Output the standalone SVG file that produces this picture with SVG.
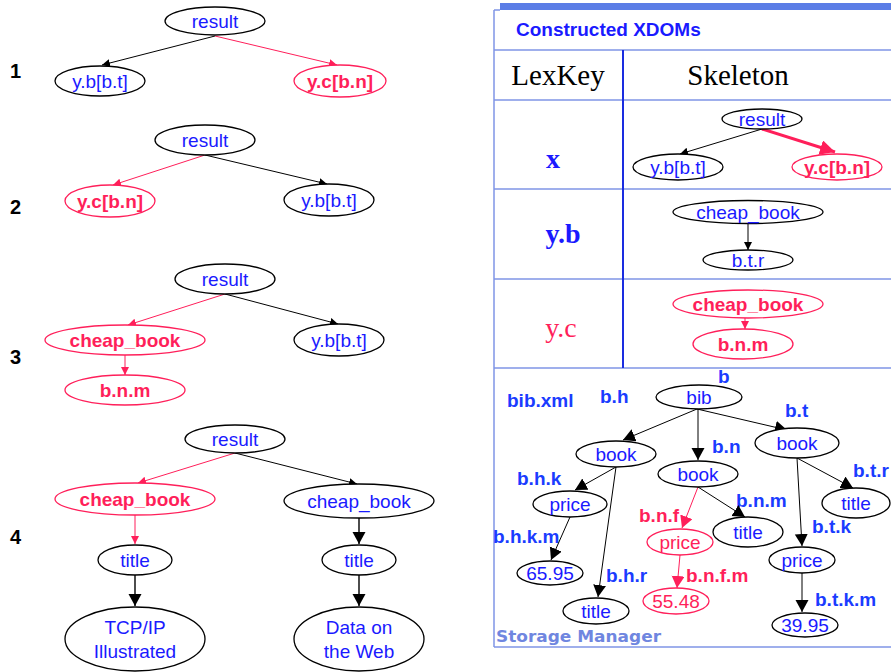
<svg xmlns="http://www.w3.org/2000/svg" width="891" height="672" viewBox="0 0 891 672">
<defs>
<style>
.n{fill:#fff;stroke:#000;stroke-width:1.3}
.np{fill:#fff;stroke:#ff1f5a;stroke-width:1.3}
.t{font-family:"Liberation Sans",Arial,sans-serif;font-size:19px;fill:#1a1aff;text-anchor:middle}
.tp{font-family:"Liberation Sans",Arial,sans-serif;font-size:19px;fill:#ff1f5a;text-anchor:middle;font-weight:bold}
.tpn{font-family:"Liberation Sans",Arial,sans-serif;font-size:19px;fill:#ff1f5a;text-anchor:middle}
.lb{font-family:"Liberation Sans",Arial,sans-serif;font-size:19px;fill:#1a3cff;font-weight:bold}
.lbp{font-family:"Liberation Sans",Arial,sans-serif;font-size:19px;fill:#ff1f5a;font-weight:bold}
.num{font-family:"Liberation Sans",Arial,sans-serif;font-size:20px;fill:#000;font-weight:bold}
.e{fill:none;stroke:#000;stroke-width:1}
.ep{fill:none;stroke:#ff1f5a;stroke-width:1}
.eb{fill:none;stroke:#000;stroke-width:1.4}
.tl{stroke:#7f95e6;stroke-width:1.5}
.srf{font-family:"Liberation Serif","Times New Roman",serif;font-size:29px;fill:#000;text-anchor:middle}
.key{font-family:"Liberation Serif","Times New Roman",serif;font-size:28px;fill:#1a1aff;font-weight:bold;text-anchor:middle}
.keyp{font-family:"Liberation Serif","Times New Roman",serif;font-size:28px;fill:#ff1f5a;text-anchor:middle}
</style>
<marker id="ms" markerUnits="userSpaceOnUse" markerWidth="10" markerHeight="10" refX="8" refY="4" orient="auto"><path d="M0,0 L8,4 L0,8 Z" fill="#000"/></marker>
<marker id="msp" markerUnits="userSpaceOnUse" markerWidth="10" markerHeight="10" refX="8" refY="4" orient="auto"><path d="M0,0 L8,4 L0,8 Z" fill="#ff1f5a"/></marker>
<marker id="mb" markerUnits="userSpaceOnUse" markerWidth="14" markerHeight="14" refX="12" refY="6.5" orient="auto"><path d="M0,0 L12,6.5 L0,13 Z" fill="#000"/></marker>
<marker id="mbp" markerUnits="userSpaceOnUse" markerWidth="14" markerHeight="14" refX="12" refY="6.5" orient="auto"><path d="M0,0 L12,6.5 L0,13 Z" fill="#ff1f5a"/></marker>
<marker id="mbp2" markerUnits="userSpaceOnUse" markerWidth="18" markerHeight="18" refX="15" refY="7.5" orient="auto"><path d="M0,0 L15,7.5 L0,15 Z" fill="#ff1f5a"/></marker>
</defs>
<rect width="891" height="672" fill="#fff"/>

<g id="table">
<rect x="500" y="3" width="391" height="7" fill="#5b7de6"/>
<line class="tl" x1="494" y1="10" x2="494" y2="647"/>
<line class="tl" x1="494" y1="10" x2="500" y2="10"/>
<line class="tl" x1="494" y1="50" x2="891" y2="50"/>
<line class="tl" x1="494" y1="100" x2="891" y2="100"/>
<line class="tl" x1="494" y1="189" x2="891" y2="189"/>
<line class="tl" x1="494" y1="279" x2="891" y2="279"/>
<line class="tl" x1="494" y1="368" x2="891" y2="368"/>
<line class="tl" x1="494" y1="647" x2="891" y2="647"/>
<line x1="623" y1="50" x2="623" y2="368" stroke="#1a2de0" stroke-width="2"/>
<text x="516" y="36" font-family="Liberation Sans,Arial,sans-serif" font-size="19" font-weight="bold" fill="#1a1aff">Constructed XDOMs</text>
<text class="srf" x="558" y="85">LexKey</text>
<text class="srf" x="738" y="85">Skeleton</text>
<text class="key" x="553" y="168">x</text>
<text class="key" x="563" y="243">y.b</text>
<text class="keyp" x="561" y="337">y.c</text>
<text x="496" y="642" font-family="Comic Sans MS,DejaVu Sans,sans-serif" font-size="16" font-weight="bold" fill="#6f86e0" textLength="165" lengthAdjust="spacingAndGlyphs">Storage Manager</text>
</g>

<g id="labels">
<text class="num" x="10" y="78">1</text>
<text class="num" x="10" y="214">2</text>
<text class="num" x="10" y="364">3</text>
<text class="num" x="10" y="544">4</text>
<text class="lb" x="718" y="383">b</text>
<text class="lb" x="507" y="407">bib.xml</text>
<text class="lb" x="600" y="403">b.h</text>
<text class="lb" x="785" y="417">b.t</text>
<text class="lb" x="712" y="453">b.n</text>
<text class="lb" x="517" y="485">b.h.k</text>
<text class="lb" x="853" y="477">b.t.r</text>
<text class="lb" x="736" y="507">b.n.m</text>
<text class="lbp" x="639" y="522">b.n.f</text>
<text class="lb" x="812" y="533">b.t.k</text>
<text class="lb" x="493" y="543">b.h.k.m</text>
<text class="lb" x="606" y="582">b.h.r</text>
<text class="lbp" x="686" y="582">b.n.f.m</text>
<text class="lb" x="815" y="606">b.t.k.m</text>
</g>

<g id="connectors">
<path class="e" d="M215,36 L102,65" marker-end="url(#ms)"/>
<path class="ep" d="M215,36 L337,65" marker-end="url(#msp)"/>
<path class="ep" d="M205,155 L113,185" marker-end="url(#msp)"/>
<path class="e" d="M205,155 L327,184" marker-end="url(#ms)"/>
<path class="ep" d="M225,294 L128,325" marker-end="url(#msp)"/>
<path class="e" d="M225,294 L338,324" marker-end="url(#ms)"/>
<path class="ep" d="M125,355 L125,375" marker-end="url(#msp)"/>
<path class="ep" d="M235,453 L138,483" marker-end="url(#msp)"/>
<path class="e" d="M235,453 L357,484" marker-end="url(#ms)"/>
<path class="ep" d="M135,515 L135,544" marker-end="url(#msp)"/>
<path class="eb" d="M359,518 L359,544" marker-end="url(#mb)"/>
<path class="eb" d="M135,575 L135,606" marker-end="url(#mb)"/>
<path class="eb" d="M359,575 L359,606" marker-end="url(#mb)"/>
<path class="e" d="M762,129 L680,154" marker-end="url(#ms)"/>
<path fill="none" stroke="#ff1f5a" stroke-width="3" d="M762,129 L835,152" marker-end="url(#mbp2)"/>
<path class="e" d="M748,223 L748,250" marker-end="url(#ms)"/>
<path class="ep" d="M745,318 L745,329" marker-end="url(#msp)"/>
<path class="e" d="M697,409 L623,440" marker-end="url(#mb)"/>
<path class="e" d="M698,409 L698,460" marker-end="url(#mb)"/>
<path class="e" d="M697,409 L787,430" marker-end="url(#mb)"/>
<path class="e" d="M616,467 L575,490" marker-end="url(#mb)"/>
<path class="e" d="M616,467 L598,597" marker-end="url(#mb)"/>
<path class="e" d="M570,517 L551,560" marker-end="url(#mb)"/>
<path class="ep" d="M698,487 L682,528" marker-end="url(#mbp)"/>
<path class="e" d="M698,487 L745,517" marker-end="url(#mb)"/>
<path class="e" d="M797,458 L853,488" marker-end="url(#mb)"/>
<path class="e" d="M797,458 L802,546" marker-end="url(#mb)"/>
<path class="e" d="M802,573 L802,612" marker-end="url(#mb)"/>
<path class="ep" d="M680,555 L677,588" marker-end="url(#mbp)"/>
</g>

<g id="t1-result"><ellipse class="n" cx="215" cy="21" rx="50" ry="14"/><text class="t" x="215" y="28">result</text></g>
<g id="t1-yb"><ellipse class="n" cx="100" cy="81" rx="45" ry="15"/><text class="t" x="100" y="88">y.b[b.t]</text></g>
<g id="t1-yc"><ellipse class="np" cx="340" cy="81" rx="46" ry="16"/><text class="tp" x="340" y="88">y.c[b.n]</text></g>

<g id="t2-result"><ellipse class="n" cx="205" cy="140" rx="50" ry="15"/><text class="t" x="205" y="147">result</text></g>
<g id="t2-yc"><ellipse class="np" cx="110" cy="201" rx="45" ry="16"/><text class="tp" x="110" y="208">y.c[b.n]</text></g>
<g id="t2-yb"><ellipse class="n" cx="329" cy="200" rx="45" ry="16"/><text class="t" x="329" y="207">y.b[b.t]</text></g>

<g id="t3-result"><ellipse class="n" cx="225" cy="279" rx="50" ry="15"/><text class="t" x="225" y="286">result</text></g>
<g id="t3-cheap"><ellipse class="np" cx="125" cy="340" rx="80" ry="15"/><text class="tp" x="125" y="347">cheap_book</text></g>
<g id="t3-yb"><ellipse class="n" cx="339" cy="340" rx="45" ry="16"/><text class="t" x="339" y="347">y.b[b.t]</text></g>
<g id="t3-bnm"><ellipse class="np" cx="125" cy="390" rx="60" ry="15"/><text class="tp" x="125" y="397">b.n.m</text></g>

<g id="t4-result"><ellipse class="n" cx="235" cy="439" rx="50" ry="14"/><text class="t" x="235" y="446">result</text></g>
<g id="t4-cheap1"><ellipse class="np" cx="135" cy="499" rx="80" ry="16"/><text class="tp" x="135" y="506">cheap_book</text></g>
<g id="t4-cheap2"><ellipse class="n" cx="359" cy="501" rx="75" ry="17"/><text class="t" x="359" y="508">cheap_book</text></g>
<g id="t4-title1"><ellipse class="n" cx="135" cy="560" rx="37" ry="15"/><text class="t" x="135" y="567">title</text></g>
<g id="t4-title2"><ellipse class="n" cx="359" cy="560" rx="37" ry="15"/><text class="t" x="359" y="567">title</text></g>
<g id="t4-tcp"><ellipse class="n" cx="135" cy="639" rx="70" ry="32"/><text class="t" x="135" y="634">TCP/IP</text><text class="t" x="135" y="658">Illustrated</text></g>
<g id="t4-data"><ellipse class="n" cx="359" cy="639" rx="65" ry="32"/><text class="t" x="359" y="634">Data on</text><text class="t" x="359" y="658">the Web</text></g>

<g id="sx-result"><ellipse class="n" cx="762" cy="119" rx="40" ry="10"/><text class="t" x="762" y="126">result</text></g>
<g id="sx-yb"><ellipse class="n" cx="678" cy="167" rx="45" ry="13"/><text class="t" x="678" y="174">y.b[b.t]</text></g>
<g id="sx-yc"><ellipse class="np" cx="837" cy="167" rx="45" ry="13"/><text class="tp" x="837" y="174">y.c[b.n]</text></g>
<g id="syb-cheap"><ellipse class="n" cx="748" cy="212" rx="75" ry="11.5"/><text class="t" x="748" y="219">cheap_book</text></g>
<g id="syb-btr"><ellipse class="n" cx="748" cy="260" rx="45" ry="10"/><text class="t" x="748" y="267">b.t.r</text></g>
<g id="syc-cheap"><ellipse class="np" cx="748" cy="304" rx="75" ry="14"/><text class="tp" x="748" y="311">cheap_book</text></g>
<g id="syc-bnm"><ellipse class="np" cx="743" cy="344" rx="50" ry="15"/><text class="tp" x="743" y="351">b.n.m</text></g>

<g id="s-bib"><ellipse class="n" cx="699" cy="397" rx="43" ry="12"/><text class="t" x="699" y="404">bib</text></g>
<g id="s-bookL"><ellipse class="n" cx="616" cy="454" rx="40" ry="13"/><text class="t" x="616" y="461">book</text></g>
<g id="s-bookM"><ellipse class="n" cx="698" cy="474" rx="40" ry="13"/><text class="t" x="698" y="481">book</text></g>
<g id="s-bookR"><ellipse class="n" cx="797" cy="443" rx="42" ry="15"/><text class="t" x="797" y="450">book</text></g>
<g id="s-priceL"><ellipse class="n" cx="570" cy="504" rx="37" ry="13"/><text class="t" x="570" y="511">price</text></g>
<g id="s-titleR"><ellipse class="n" cx="856" cy="503" rx="34" ry="15"/><text class="t" x="856" y="510">title</text></g>
<g id="s-titleM"><ellipse class="n" cx="748" cy="532" rx="35" ry="15"/><text class="t" x="748" y="539">title</text></g>
<g id="s-priceP"><ellipse class="np" cx="680" cy="542" rx="33" ry="13"/><text class="tpn" x="680" y="549">price</text></g>
<g id="s-priceR"><ellipse class="n" cx="802" cy="560" rx="33" ry="13"/><text class="t" x="802" y="567">price</text></g>
<g id="s-6595"><ellipse class="n" cx="550" cy="573" rx="33" ry="12"/><text class="t" x="550" y="580">65.95</text></g>
<g id="s-5548"><ellipse class="np" cx="676" cy="601" rx="33" ry="13"/><text class="tpn" x="676" y="608">55.48</text></g>
<g id="s-titleBL"><ellipse class="n" cx="596" cy="611" rx="33" ry="13"/><text class="t" x="596" y="618">title</text></g>
<g id="s-3995"><ellipse class="n" cx="805" cy="625" rx="33" ry="12"/><text class="t" x="805" y="632">39.95</text></g>
</svg>
